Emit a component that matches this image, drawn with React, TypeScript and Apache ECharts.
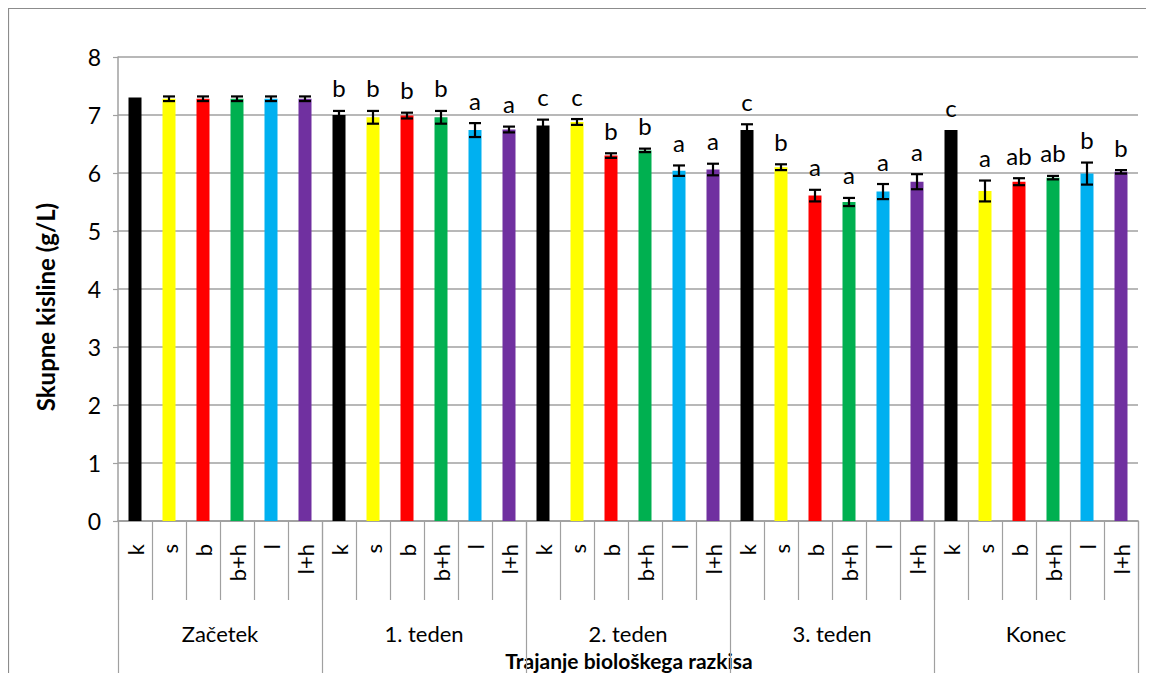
import React, { useEffect, useRef } from "react";
import * as echarts from "echarts";

const treatments = ["k", "s", "b", "b+h", "l", "l+h"];
const periods = ["Začetek", "1. teden", "2. teden", "3. teden", "Konec"];
const treatmentColors = ["#000000", "#FFFF00", "#FF0000", "#00B050", "#00B0F0", "#7030A0"];
const yTicks = [0, 1, 2, 3, 4, 5, 6, 7, 8];

const zacetekMeans = [7.3, 7.28, 7.28, 7.28, 7.28, 7.28];
const teden1Means = [7.0, 6.96, 6.99, 6.96, 6.74, 6.75];
const teden2Means = [6.82, 6.88, 6.3, 6.39, 6.04, 6.06];
const teden3Means = [6.74, 6.1, 5.61, 5.5, 5.68, 5.85];
const konecMeans = [6.74, 5.69, 5.85, 5.92, 5.99, 6.02];

const zacetekErr = [0, 0.04, 0.04, 0.04, 0.04, 0.04];
const teden1Err = [0.07, 0.11, 0.05, 0.11, 0.12, 0.05];
const teden2Err = [0.1, 0.05, 0.04, 0.03, 0.09, 0.1];
const teden3Err = [0.1, 0.05, 0.1, 0.07, 0.13, 0.13];
const konecErr = [0, 0.18, 0.06, 0.03, 0.19, 0.03];

const zacetekLetters = ["", "", "", "", "", ""];
const teden1Letters = ["b", "b", "b", "b", "a", "a"];
const teden2Letters = ["c", "c", "b", "b", "a", "a"];
const teden3Letters = ["c", "b", "a", "a", "a", "a"];
const konecLetters = ["c", "a", "ab", "ab", "b", "b"];

const allMeans = [zacetekMeans, teden1Means, teden2Means, teden3Means, konecMeans].flat();
const allErr = [zacetekErr, teden1Err, teden2Err, teden3Err, konecErr].flat();
const allLetters = [zacetekLetters, teden1Letters, teden2Letters, teden3Letters, konecLetters].flat();
const allCats = periods.flatMap(() => treatments);

const FONT = "Lato, 'Open Sans', sans-serif";
const GRAY = "#A0A0A0";

export default function App() {
  const ref = useRef<HTMLDivElement>(null);
  useEffect(() => {
    if (!ref.current) return;
    const chart = echarts.init(ref.current, undefined, { renderer: "svg" });
    const option: any = {
      animation: false,
      backgroundColor: "#ffffff",
      grid: { left: 110, right: 16, top: 49, bottom: 152, containLabel: false },
      xAxis: [
        {
          type: "category",
          data: allCats,
          position: "bottom",
          axisLine: { show: true, lineStyle: { color: GRAY, width: 1.5 } },
          axisTick: { show: true, length: 79, interval: 0, lineStyle: { color: GRAY, width: 1.2 } },
          axisLabel: {
            interval: 0,
            rotate: 90,
            margin: 23,
            fontSize: 22,
            fontFamily: FONT,
            color: "#000",
          },
        },
        {
          type: "category",
          data: periods,
          position: "bottom",
          axisLine: { show: true, lineStyle: { color: GRAY, width: 1.5 } },
          axisTick: { show: true, length: 160, interval: 0, lineStyle: { color: GRAY, width: 1.2 } },
          axisLabel: {
            interval: 0,
            margin: 102,
            fontSize: 22,
            lineHeight: 20,
            fontFamily: FONT,
            color: "#000",
          },
        },
      ],
      yAxis: {
        type: "value",
        min: yTicks[0],
        max: yTicks[yTicks.length - 1],
        interval: 1,
        axisLine: { show: true, lineStyle: { color: GRAY, width: 1.5 } },
        axisTick: { show: true, length: 5, lineStyle: { color: GRAY, width: 1.2 } },
        axisLabel: { margin: 17, fontSize: 23, fontFamily: FONT, color: "#000" },
        splitLine: { show: true, lineStyle: { color: GRAY, width: 1.5 } },
      },
      series: [
        {
          type: "bar",
          xAxisIndex: 0,
          barWidth: 13,
          data: allMeans.map((v, i) => ({
            value: v,
            itemStyle: { color: treatmentColors[i % treatmentColors.length] },
          })),
          z: 2,
        },
        {
          type: "custom",
          xAxisIndex: 0,
          z: 5,
          encode: { x: 0, y: 1 },
          data: allMeans.map((v, i) => [i, v, allErr[i]]),
          renderItem: (params: any, api: any) => {
            const i = api.value(0);
            const v = api.value(1);
            const e = api.value(2);
            const top = api.coord([i, v + e]);
            const bot = api.coord([i, v - e]);
            const half = 6;
            const st = { stroke: "#000", lineWidth: 2.2 };
            const children: any[] = [];
            if (e > 0) {
              children.push({ type: "line", shape: { x1: top[0], y1: top[1], x2: bot[0], y2: bot[1] }, style: st });
              children.push({ type: "line", shape: { x1: top[0] - half, y1: top[1], x2: top[0] + half, y2: top[1] }, style: st });
              children.push({ type: "line", shape: { x1: bot[0] - half, y1: bot[1], x2: bot[0] + half, y2: bot[1] }, style: st });
            }
            const letter = allLetters[params.dataIndex];
            if (letter) {
              children.push({
                type: "text",
                x: top[0],
                y: top[1] - 11,
                style: {
                  text: letter,
                  fill: "#000",
                  fontSize: 24,
                  fontFamily: FONT,
                  align: "center",
                  verticalAlign: "bottom",
                },
              });
            }
            return { type: "group", children };
          },
        },
      ],
      graphic: [
        {
          type: "rect",
          silent: true,
          shape: { x: 0.5, y: 0.5, width: 1400, height: 900 },
          style: { fill: "none", stroke: "#8C8C8C", lineWidth: 1.2 },
        },
        {
          type: "text",
          x: 37,
          y: 299,
          rotation: Math.PI / 2,
          style: {
            text: "Skupne kisline (g/L)",
            fill: "#000",
            fontSize: 24,
            fontWeight: "bold",
            fontFamily: FONT,
            align: "center",
            verticalAlign: "middle",
          },
        },
        {
          type: "text",
          x: 621,
          y: 652,
          style: {
            text: "Trajanje biološkega razkisa",
            fill: "#000",
            fontSize: 21,
            lineHeight: 20,
            fontWeight: "bold",
            fontFamily: FONT,
            align: "center",
            verticalAlign: "middle",
          },
        },
      ],
    };
    chart.setOption(option);
    return () => chart.dispose();
  }, []);
  return <div ref={ref} style={{ width: 1146, height: 665 }} />;
}
